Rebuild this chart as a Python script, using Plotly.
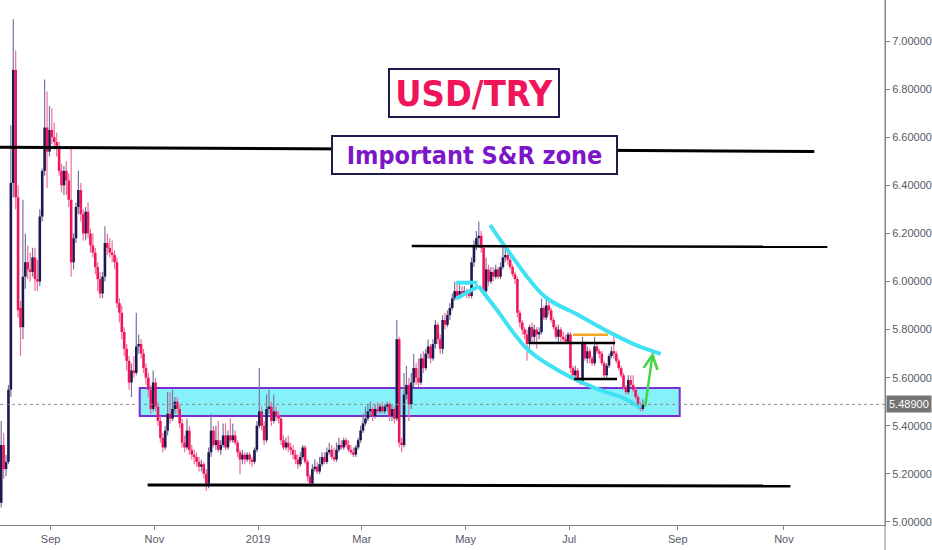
import pandas as pd
import plotly.graph_objects as go

# ---------------- data (daily USD/TRY candles) ----------------
open_ = [5.08,5.32,5.22,5.25,5.55,6.41,6.88,6.35,5.89,5.81,6.02,6.08,6.05,6.04,6.10,6.01,6.00,6.27,6.46,6.64,
 6.54,6.63,6.60,6.58,6.56,6.46,6.40,6.46,6.42,6.34,6.08,6.18,6.31,6.38,6.28,6.20,6.29,6.20,6.15,6.12,
 6.06,6.01,5.95,6.02,6.16,6.14,6.12,6.11,6.08,5.91,5.87,5.79,5.72,5.67,5.58,5.63,5.62,5.73,5.74,5.70,
 5.64,5.60,5.55,5.47,5.58,5.48,5.42,5.35,5.31,5.38,5.45,5.43,5.47,5.50,5.47,5.41,5.33,5.31,5.38,5.30,
 5.28,5.27,5.25,5.23,5.24,5.20,5.16,5.29,5.38,5.32,5.34,5.30,5.32,5.36,5.31,5.36,5.34,5.36,5.33,5.29,
 5.26,5.28,5.26,5.28,5.26,5.25,5.30,5.40,5.46,5.40,5.34,5.47,5.48,5.42,5.46,5.44,5.43,5.34,5.31,5.33,
 5.31,5.30,5.28,5.26,5.24,5.27,5.31,5.25,5.19,5.16,5.22,5.23,5.21,5.24,5.27,5.25,5.29,5.30,5.27,5.26,
 5.30,5.32,5.31,5.34,5.32,5.30,5.29,5.28,5.31,5.34,5.38,5.41,5.43,5.46,5.47,5.44,5.47,5.46,5.48,5.46,
 5.48,5.49,5.44,5.47,5.43,5.76,5.33,5.32,5.53,5.57,5.49,5.58,5.64,5.60,5.58,5.68,5.64,5.70,5.73,5.68,
 5.74,5.82,5.76,5.72,5.84,5.82,5.86,5.89,5.93,5.96,5.94,5.96,5.95,5.96,5.95,5.94,6.08,6.15,6.18,6.19,
 6.14,5.96,6.05,6.00,6.04,6.02,6.05,6.02,6.06,6.10,6.11,6.09,6.06,6.03,6.01,5.87,5.83,5.80,5.78,5.74,
 5.81,5.77,5.80,5.78,5.79,5.89,5.85,5.90,5.88,5.84,5.81,5.77,5.80,5.77,5.76,5.75,5.78,5.64,5.61,5.63,
 5.59,5.58,5.74,5.68,5.71,5.68,5.66,5.73,5.71,5.70,5.66,5.61,5.65,5.69,5.71,5.70,5.67,5.64,5.61,5.56,
 5.54,5.59,5.57,5.55,5.52,5.48,5.47]
high = [5.42,5.37,5.28,5.57,6.65,7.09,6.96,6.40,5.92,6.34,6.20,6.15,6.12,6.14,6.14,6.09,6.30,6.47,6.84,6.79,
 6.73,6.72,6.66,6.62,6.58,6.49,6.48,6.50,6.45,6.56,6.20,6.33,6.46,6.41,6.30,6.31,6.33,6.22,6.20,6.14,
 6.08,6.04,6.04,6.23,6.20,6.18,6.17,6.13,6.10,5.93,5.90,5.81,5.74,5.69,5.66,5.69,5.87,5.78,5.76,5.72,
 5.66,5.62,5.57,5.63,5.60,5.50,5.44,5.37,5.40,5.54,5.54,5.55,5.52,5.52,5.49,5.43,5.36,5.43,5.40,5.32,
 5.30,5.29,5.27,5.26,5.25,5.22,5.31,5.45,5.40,5.40,5.42,5.34,5.41,5.41,5.38,5.43,5.41,5.38,5.34,5.30,
 5.30,5.29,5.29,5.29,5.27,5.31,5.42,5.64,5.48,5.42,5.53,5.55,5.50,5.53,5.48,5.46,5.44,5.36,5.35,5.36,
 5.33,5.32,5.30,5.28,5.29,5.32,5.32,5.26,5.20,5.24,5.26,5.25,5.27,5.29,5.29,5.31,5.33,5.32,5.31,5.33,
 5.35,5.34,5.35,5.35,5.34,5.32,5.31,5.32,5.35,5.40,5.45,5.48,5.49,5.50,5.48,5.49,5.50,5.49,5.50,5.49,
 5.50,5.50,5.49,5.48,5.84,5.77,5.35,5.62,5.65,5.60,5.62,5.70,5.66,5.68,5.70,5.71,5.72,5.76,5.74,5.76,
 5.84,5.83,5.78,5.86,5.87,5.88,5.91,5.95,6.00,5.99,6.00,5.98,5.98,5.97,5.97,6.10,6.17,6.21,6.25,6.21,
 6.15,6.10,6.07,6.06,6.06,6.07,6.06,6.08,6.15,6.15,6.12,6.10,6.07,6.04,6.02,5.88,5.84,5.81,5.80,5.82,
 5.83,5.82,5.81,5.81,5.93,5.90,5.93,5.92,5.89,5.85,5.82,5.82,5.81,5.79,5.78,5.79,5.79,5.65,5.65,5.64,
 5.60,5.77,5.75,5.73,5.72,5.69,5.77,5.74,5.72,5.71,5.67,5.66,5.70,5.73,5.78,5.71,5.68,5.65,5.62,5.57,
 5.61,5.61,5.61,5.56,5.53,5.50,5.51]
low = [5.06,5.18,5.19,5.24,5.52,6.35,6.30,5.85,5.69,5.76,5.97,6.01,6.00,6.02,5.96,5.96,5.98,6.25,6.44,6.39,
 6.52,6.57,6.55,6.52,6.44,6.37,6.36,6.36,6.31,6.02,6.05,6.16,6.28,6.25,6.17,6.17,6.18,6.12,6.10,6.03,
 5.96,5.93,5.93,6.00,6.11,6.10,6.08,6.05,5.89,5.83,5.76,5.69,5.63,5.55,5.52,5.60,5.61,5.70,5.68,5.62,
 5.57,5.52,5.45,5.46,5.46,5.40,5.33,5.29,5.30,5.36,5.41,5.42,5.45,5.45,5.39,5.31,5.29,5.30,5.28,5.26,
 5.24,5.23,5.21,5.21,5.18,5.13,5.14,5.27,5.31,5.30,5.29,5.28,5.31,5.30,5.30,5.33,5.33,5.32,5.27,5.20,
 5.24,5.24,5.25,5.24,5.23,5.24,5.29,5.39,5.38,5.32,5.33,5.45,5.40,5.41,5.42,5.41,5.32,5.30,5.30,5.29,
 5.28,5.26,5.24,5.22,5.23,5.26,5.24,5.17,5.15,5.15,5.21,5.20,5.20,5.23,5.24,5.24,5.28,5.26,5.25,5.25,
 5.29,5.30,5.30,5.31,5.29,5.28,5.27,5.27,5.30,5.33,5.37,5.40,5.42,5.44,5.42,5.43,5.45,5.45,5.45,5.45,
 5.46,5.42,5.42,5.41,5.42,5.31,5.29,5.31,5.51,5.42,5.47,5.56,5.57,5.56,5.57,5.62,5.63,5.68,5.66,5.67,
 5.72,5.74,5.70,5.70,5.80,5.81,5.84,5.88,5.92,5.93,5.93,5.94,5.94,5.93,5.93,5.93,6.06,6.13,6.14,6.12,
 5.94,5.95,5.98,5.99,6.00,6.01,6.01,6.01,6.05,6.08,6.07,6.05,6.02,5.99,5.85,5.81,5.78,5.76,5.67,5.72,
 5.75,5.74,5.72,5.76,5.78,5.84,5.84,5.86,5.83,5.80,5.76,5.74,5.75,5.75,5.74,5.74,5.62,5.60,5.60,5.58,
 5.57,5.57,5.67,5.66,5.66,5.65,5.65,5.70,5.68,5.65,5.60,5.60,5.64,5.68,5.68,5.66,5.63,5.60,5.55,5.53,
 5.53,5.56,5.54,5.51,5.47,5.46,5.46]
close = [5.32,5.22,5.25,5.55,6.41,6.88,6.35,5.88,5.81,6.02,6.08,6.05,6.04,6.10,6.01,6.00,6.27,6.46,6.64,6.54,
 6.63,6.60,6.58,6.56,6.46,6.40,6.46,6.42,6.34,6.08,6.18,6.31,6.38,6.28,6.20,6.29,6.20,6.15,6.12,6.06,
 6.01,5.95,6.02,6.16,6.14,6.12,6.11,6.08,5.91,5.87,5.79,5.72,5.67,5.58,5.63,5.62,5.73,5.74,5.70,5.64,
 5.60,5.55,5.47,5.58,5.48,5.42,5.35,5.31,5.38,5.45,5.43,5.47,5.50,5.47,5.41,5.33,5.31,5.38,5.30,5.28,
 5.27,5.25,5.23,5.24,5.20,5.16,5.29,5.38,5.32,5.34,5.30,5.32,5.36,5.31,5.36,5.34,5.36,5.33,5.29,5.26,
 5.28,5.26,5.28,5.26,5.25,5.30,5.40,5.46,5.40,5.34,5.47,5.48,5.42,5.46,5.44,5.43,5.34,5.31,5.33,5.31,
 5.30,5.28,5.26,5.24,5.27,5.31,5.25,5.19,5.16,5.22,5.23,5.21,5.24,5.27,5.25,5.29,5.30,5.27,5.26,5.30,
 5.32,5.31,5.34,5.32,5.30,5.29,5.28,5.31,5.34,5.38,5.41,5.43,5.46,5.47,5.44,5.47,5.46,5.48,5.46,5.48,
 5.49,5.44,5.47,5.43,5.76,5.33,5.32,5.53,5.57,5.49,5.58,5.64,5.60,5.58,5.68,5.64,5.70,5.73,5.68,5.74,
 5.82,5.76,5.72,5.84,5.82,5.86,5.89,5.93,5.96,5.94,5.96,5.95,5.96,5.95,5.94,6.08,6.15,6.18,6.19,6.14,
 5.96,6.05,6.00,6.04,6.02,6.05,6.02,6.06,6.10,6.11,6.09,6.06,6.03,6.01,5.87,5.83,5.80,5.78,5.74,5.81,
 5.77,5.80,5.78,5.79,5.89,5.85,5.90,5.88,5.84,5.81,5.77,5.80,5.77,5.76,5.75,5.78,5.64,5.61,5.63,5.59,
 5.58,5.74,5.68,5.71,5.68,5.66,5.73,5.71,5.70,5.66,5.61,5.65,5.69,5.71,5.70,5.67,5.64,5.61,5.56,5.54,
 5.59,5.57,5.55,5.52,5.48,5.47,5.489]

first_day = "2018-08-03"
dates = list(pd.bdate_range(first_day, periods=len(close)) + pd.Timedelta(hours=12))

tick_dates = ["2018-09-03", "2018-11-01", "2019-01-01", "2019-03-01",
              "2019-05-01", "2019-07-01", "2019-09-02", "2019-11-01"]
tick_labels = ["Sep", "Nov", "2019", "Mar", "May", "Jul", "Sep", "Nov"]

y_ticks = [5.0, 5.2, 5.4, 5.6, 5.8, 6.0, 6.2, 6.4, 6.6, 6.8, 7.0]
last_price = 5.489

# ---------------- styles ----------------
UP_BODY, UP_WICK = "#1b1950", "#76759e"
DN_BODY, DN_WICK = "#f0155c", "#f26d98"
CYAN = "#3fe2f2"
ZONE_FILL, ZONE_LINE = "#86f1f8", "#7a2fd4"
AX = "#858585"
TXT = "#555a66"
NARROW = "Liberation Sans Narrow, Arial Narrow, Liberation Sans, sans-serif"
BOXFONT = "DejaVu Sans Condensed, DejaVu Sans, sans-serif"

def segs(ys0, ys1, keep):
    xs, ys = [], []
    for d, a, b, k in zip(dates, ys0, ys1, keep):
        if k:
            xs += [d, d, None]
            ys += [a, b, None]
    return xs, ys

is_up = [c >= o for o, c in zip(open_, close)]
is_dn = [not u for u in is_up]

fig = go.Figure()
for keep, col, w, a, b in [
    (is_up, UP_WICK, 1.2, low, high),
    (is_dn, DN_WICK, 1.2, low, high),
    (is_up, UP_BODY, 2.6, open_, close),
    (is_dn, DN_BODY, 2.6, open_, close),
]:
    xs, ys = segs(a, b, keep)
    fig.add_trace(go.Scatter(x=xs, y=ys, mode="lines", line=dict(color=col, width=w),
                             hoverinfo="skip", showlegend=False))

# ---------------- drawings ----------------
upper_curve = (["2019-05-15 04:48", "2019-05-23 09:36", "2019-06-14 21:36", "2019-07-04 16:48",
                "2019-07-25 19:12", "2019-08-08 12:00", "2019-08-21 21:36"],
               [6.235, 6.145, 5.937, 5.861, 5.778, 5.732, 5.699])
lower_curve = (["2019-05-08 09:36", "2019-05-17 09:36", "2019-06-06 00:00", "2019-06-25 14:24",
                "2019-07-15 16:48", "2019-07-31 07:12", "2019-08-09 16:48"],
               [5.981, 5.890, 5.715, 5.624, 5.557, 5.516, 5.474])
flag_top = (["2019-04-25 02:24", "2019-05-07 21:36"], [5.995, 5.995])
flag_bot = (["2019-04-25 02:24", "2019-05-08 09:36"], [5.928, 5.981])

for (xs, ys), shp in [(upper_curve, "spline"), (lower_curve, "spline"),
                      (flag_top, "linear"), (flag_bot, "linear")]:
    fig.add_trace(go.Scatter(x=xs, y=ys, mode="lines", line=dict(color=CYAN, width=4, shape=shp),
                             hoverinfo="skip", showlegend=False))

shapes = [
    dict(type="rect", xref="x", yref="y", x0="2018-10-23 22:00", x1="2019-09-02 19:00",
         y0=5.441, y1=5.557, fillcolor=ZONE_FILL, line=dict(color=ZONE_LINE, width=2), layer="below"),
    dict(type="line", xref="paper", yref="y", x0=0, x1=1, y0=last_price, y1=last_price,
         line=dict(color="#8c8c8c", width=1, dash="dot")),
    dict(type="line", xref="x", yref="y", x0="2018-08-03 00:00", x1="2019-11-19 14:00",
         y0=6.558, y1=6.541, line=dict(color="black", width=3)),
    dict(type="line", xref="x", yref="y", x0="2019-03-29 16:48", x1="2019-11-27 00:00",
         y0=6.148, y1=6.144, line=dict(color="black", width=2.5)),
    dict(type="line", xref="x", yref="y", x0="2018-10-29 05:00", x1="2019-11-05 17:00",
         y0=5.154, y1=5.150, line=dict(color="black", width=3)),
    dict(type="line", xref="x", yref="y", x0="2019-06-06 09:36", x1="2019-07-26 00:00",
         y0=5.744, y1=5.744, line=dict(color="black", width=2.5)),
    dict(type="line", xref="x", yref="y", x0="2019-07-03 00:00", x1="2019-07-26 19:00",
         y0=5.595, y1=5.595, line=dict(color="black", width=2.5)),
    dict(type="line", xref="x", yref="y", x0="2019-07-02 14:24", x1="2019-07-23 02:24",
         y0=5.779, y1=5.779, line=dict(color="#f5a623", width=2.5)),
    dict(type="line", xref="paper", yref="paper", x0=1, x1=1, y0=-0.06, y1=1,
         line=dict(color=AX, width=1)),
]

annotations = [
    dict(xref="paper", yref="y", x=476 / 888, y=6.784, text="<b>USD/TRY</b>", showarrow=False,
         font=dict(family=BOXFONT, size=36, color="#f0145a"), bgcolor="white",
         bordercolor="#1f1b4d", borderwidth=2, borderpad=2, width=164, height=42),
    dict(xref="paper", yref="y", x=476.5 / 888, y=6.526, text="<b>Important S&amp;R zone</b>",
         showarrow=False, font=dict(family=BOXFONT, size=25, color="#7d16c8"), bgcolor="white",
         bordercolor="#1f1b4d", borderwidth=2, borderpad=2, width=279, height=32),
    dict(xref="x", yref="y", x="2019-08-16 16:48", y=5.707, ax=-8, ay=56, text="",
         showarrow=True, arrowhead=5, arrowsize=1.1, arrowwidth=2.5, arrowcolor="#45d445"),
    dict(xref="paper", yref="y", x=1, xanchor="left", xshift=1, y=last_price, text="5.48900",
         showarrow=False, font=dict(family=NARROW, size=11, color="white"),
         bgcolor="#747474", borderpad=2),
]

fig.update_layout(
    width=932, height=550,
    margin=dict(l=0, r=44, t=0, b=25),
    paper_bgcolor="white", plot_bgcolor="white",
    showlegend=False,
    shapes=shapes, annotations=annotations,
    xaxis=dict(
        type="date", range=["2018-08-03 00:00", "2019-12-30 21:36"],
        rangebreaks=[dict(bounds=["sat", "mon"])],
        tickvals=tick_dates, ticktext=tick_labels,
        showgrid=False, zeroline=False, showline=True, linecolor=AX, linewidth=1,
        ticks="outside", ticklen=4, tickcolor=AX,
        tickfont=dict(family=NARROW, size=11, color=TXT),
    ),
    yaxis=dict(
        side="right", range=[4.9875, 7.1705],
        tickvals=y_ticks, tickformat=".5f",
        showgrid=False, zeroline=False, showline=True, linecolor=AX, linewidth=1,
        ticks="outside", ticklen=4, tickcolor=AX,
        tickfont=dict(family=NARROW, size=11, color=TXT),
    ),
)

fig.write_html(
    "out.html",
    config={"displayModeBar": False},
    post_script="document.body.style.margin='0';document.body.style.padding='0';"
                "document.body.style.overflow='hidden';",
)
